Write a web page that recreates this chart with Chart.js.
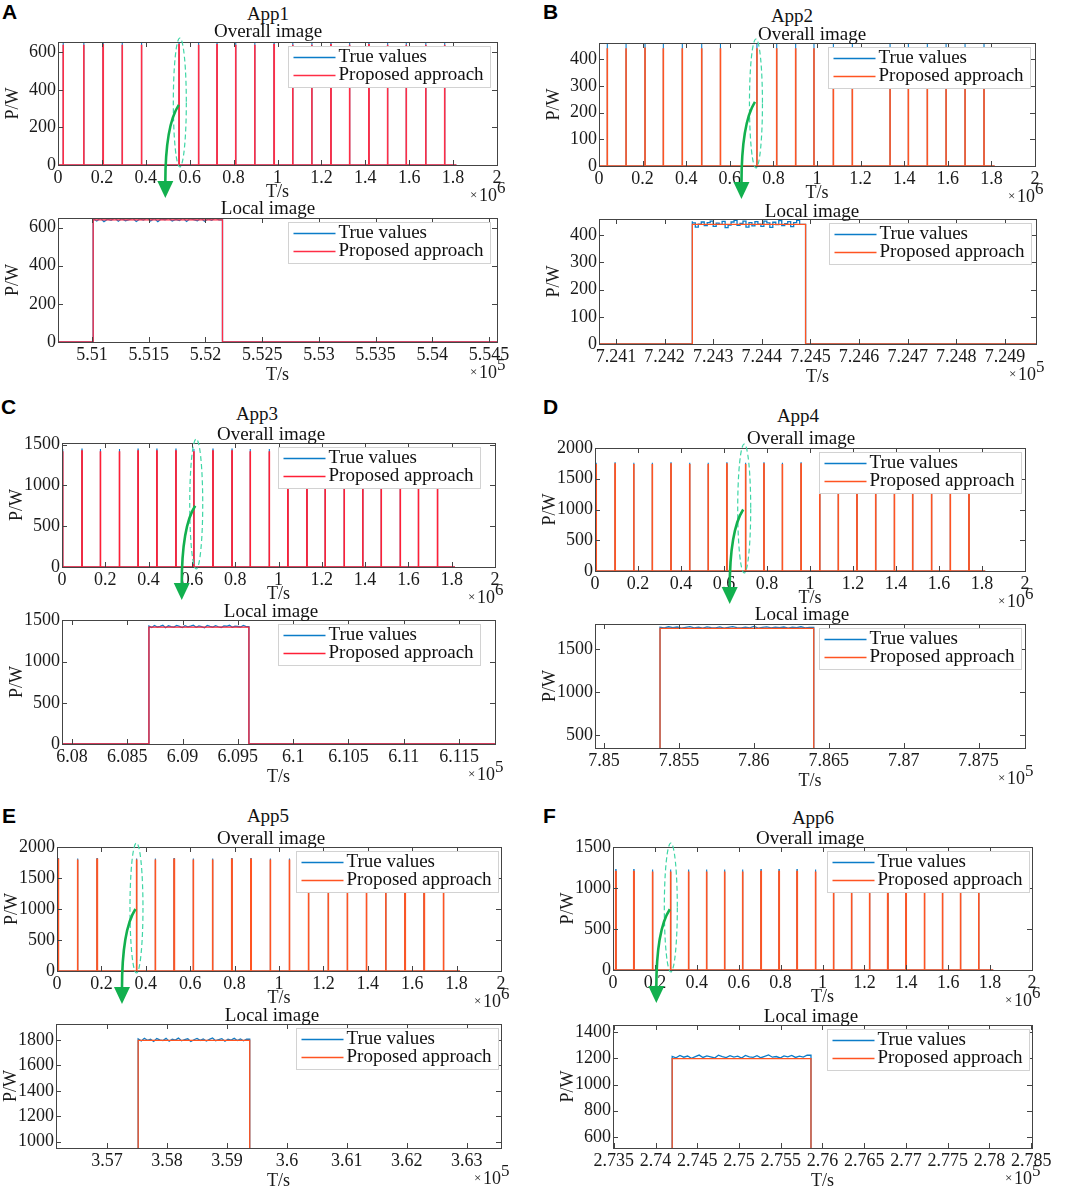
<!DOCTYPE html>
<html>
<head>
<meta charset="utf-8">
<script src="https://cdn.jsdelivr.net/npm/chart.js@4.4.1/dist/chart.umd.min.js"></script>
<style>
  body { margin: 0; background: #fff; width: 1065px; height: 1190px; position: relative; overflow: hidden;
         font-family: "Liberation Serif", "Times New Roman", serif; }
  canvas.plot { position: absolute; }
  .lbl { position: absolute; transform: translate(-50%, -50%); font-size: 19px; color: #111; white-space: nowrap; line-height: 1; }
  .panel { position: absolute; font: bold 21px "Liberation Sans", Arial, sans-serif; color: #000; line-height: 1; }
  #overlay { position: absolute; left: 0; top: 0; pointer-events: none; z-index: 10; }
</style>
</head>
<body>
<canvas id="overlay" width="1065" height="1190"></canvas>
<script>
// ---- data ----
const apps = ['App1', 'App2', 'App3', 'App4', 'App5', 'App6'];
const panelLetters = ['A', 'B', 'C', 'D', 'E', 'F'];
const seriesLabels = ['True values', 'Proposed approach'];
const overallTitle = 'Overall image';
const localTitle = 'Local image';

// overall image: pulse start times (x10^6 s)
const startsApp1 = [0.023, 0.117, 0.205, 0.292, 0.380, 0.551, 0.640, 0.724, 0.809, 0.896, 0.984, 1.069, 1.156, 1.243, 1.328, 1.416, 1.501, 1.586, 1.675, 1.761];
const startsApp2 = [0.038, 0.124, 0.211, 0.295, 0.382, 0.471, 0.557, 0.7243, 0.815, 0.902, 0.986, 1.075, 1.162, 1.335, 1.419, 1.506, 1.592, 1.679, 1.766];
const startsApp3 = [0.003, 0.092, 0.177, 0.265, 0.351, 0.438, 0.526, 0.6087, 0.697, 0.785, 0.869, 0.957, 1.043, 1.131, 1.215, 1.303, 1.389, 1.474, 1.562, 1.646, 1.734];
const startsApp4 = [0.005, 0.093, 0.180, 0.266, 0.353, 0.440, 0.526, 0.613, 0.700, 0.7854, 0.871, 0.958, 1.045, 1.131, 1.218, 1.305, 1.392, 1.477, 1.565, 1.652, 1.739];
const startsApp5 = [0.0045, 0.092, 0.180, 0.3575, 0.442, 0.527, 0.613, 0.700, 0.787, 0.873, 0.960, 1.046, 1.132, 1.221, 1.307, 1.393, 1.480, 1.567, 1.653, 1.740];
const startsApp6 = [0.013, 0.099, 0.188, 0.2742, 0.360, 0.446, 0.532, 0.618, 0.706, 0.792, 0.878, 0.966, 1.052, 1.138, 1.224, 1.311, 1.398, 1.486, 1.572, 1.658, 1.745];
const overallStarts = [startsApp1, startsApp2, startsApp3, startsApp4, startsApp5, startsApp6];
const recordEnd = 1.815;                       // x10^6 s
const trueOverall = [652, 456, 1445, 1760, 1815, 1225];
const predOverall = [640, 440, 1420, 1740, 1800, 1200];
const overallYMax = [655, 460, 1520, 2000, 2000, 1500];
const overallYTicks = [
  [0, 200, 400, 600], [0, 100, 200, 300, 400], [0, 500, 1000, 1500],
  [0, 500, 1000, 1500, 2000], [0, 500, 1000, 1500, 2000], [0, 500, 1000, 1500]
];
const overallXTicks = [0, 0.2, 0.4, 0.6, 0.8, 1, 1.2, 1.4, 1.6, 1.8, 2];
const zoomMarkX = [0.555, 0.720, 0.620, 0.694, 0.358, 0.276];
const arrowFromY = [320, 240, 750, 1000, 1000, 740];

// local image (x10^5 s)
const localRange = [[5.5070, 5.5457], [7.24065, 7.24964], [6.0791, 6.11825], [7.8494, 7.8781], [3.5615, 3.6357], [2.7349, 2.7851]];
const localOn  = [5.5101, 7.24257, 6.08696, 7.85374, 3.5752, 2.74199];
const localOff = [5.5215, 7.24490, 6.09600, 7.86400, 3.5938, 2.75862];
const predLocal = [640, 440, 1418, 1740, 1797, 1198];
const trueLocalApp1 = [646, 634, 649, 631, 644, 638, 650, 633, 647, 636, 642, 649, 632, 645, 639, 650, 635, 648, 631, 646, 640, 649, 634, 643, 637, 650, 632, 647, 641, 636, 649, 633, 645, 638, 650, 640];
const trueLocalApp2 = [452, 446, 430, 441, 449, 436, 447, 452, 433, 445, 440, 451, 428, 438, 449, 455, 437, 444, 452, 430, 447, 435, 450, 441, 433, 452, 446, 429, 448, 439, 454, 436, 443, 450, 432, 447, 455, 440];
const trueLocalApp3 = [1432, 1415, 1438, 1420, 1428, 1441, 1412, 1435, 1424, 1418, 1440, 1427, 1413, 1436, 1422, 1430, 1442, 1417, 1433, 1425, 1411, 1439, 1428, 1419, 1437, 1423, 1414, 1434, 1429, 1441, 1416, 1431, 1426, 1420, 1438, 1424];
const trueLocalApp4 = [1752, 1744, 1758, 1747, 1755, 1741, 1750, 1760, 1746, 1753, 1743, 1757, 1749, 1745, 1756, 1742, 1751, 1759, 1748, 1744, 1754, 1746, 1761, 1743, 1750, 1757, 1745, 1752, 1748, 1755, 1741, 1753, 1747, 1758, 1744, 1751];
const trueLocalApp5 = [1808, 1792, 1813, 1797, 1805, 1788, 1810, 1800, 1795, 1812, 1790, 1806, 1798, 1814, 1793, 1803, 1809, 1787, 1801, 1811, 1796, 1807, 1791, 1804, 1815, 1794, 1802, 1810, 1789, 1806, 1799, 1812, 1795, 1808, 1793, 1805];
const trueLocalApp6 = [1215, 1204, 1222, 1209, 1218, 1201, 1213, 1225, 1207, 1219, 1211, 1203, 1224, 1214, 1206, 1220, 1210, 1217, 1202, 1223, 1212, 1208, 1221, 1205, 1216, 1226, 1209, 1214, 1203, 1219, 1212, 1222, 1207, 1217, 1210, 1224];
const trueLocal = [trueLocalApp1, trueLocalApp2, trueLocalApp3, trueLocalApp4, trueLocalApp5, trueLocalApp6];
const localYRange = [[0, 650], [0, 460], [0, 1505], [350, 1790], [950, 1925], [515, 1455]];
const localYTicks = [
  [0, 200, 400, 600], [0, 100, 200, 300, 400], [0, 500, 1000, 1500],
  [500, 1000, 1500], [1000, 1200, 1400, 1600, 1800], [600, 800, 1000, 1200, 1400]
];
const localXTicks = [
  [5.51, 5.515, 5.52, 5.525, 5.53, 5.535, 5.54, 5.545],
  [7.241, 7.242, 7.243, 7.244, 7.245, 7.246, 7.247, 7.248, 7.249],
  [6.08, 6.085, 6.09, 6.095, 6.1, 6.105, 6.11, 6.115],
  [7.85, 7.855, 7.86, 7.865, 7.87, 7.875],
  [3.57, 3.58, 3.59, 3.6, 3.61, 3.62, 3.63],
  [2.735, 2.74, 2.745, 2.75, 2.755, 2.76, 2.765, 2.77, 2.775, 2.78, 2.785]
];

// ---- layout / style ----
const overallRect = [[58, 42, 497, 165], [599, 43, 1035, 166], [62, 443, 495, 567], [595, 448, 1025, 571], [57, 847, 501, 971], [613, 847, 1032, 970]];
const localRect   = [[58, 218, 497, 342], [599, 219, 1036, 344], [62, 620, 495, 744], [595, 624, 1025, 748], [56, 1024, 501, 1148], [613, 1025, 1032, 1148]];
const legendRight = [7, 5, 15, 4, 3, 3];
const localStepped = [false, true, false, false, false, false];
const letterPos = [[2, 1], [543, 1], [1, 396], [543, 396], [2, 805], [543, 805]];
const titlePos = [
  [[268, 13], [268, 30], [268, 207]],
  [[792, 15], [812, 33], [812, 210]],
  [[257, 413], [271, 433], [271, 610]],
  [[798, 415], [801, 437], [802, 613]],
  [[268, 815], [271, 837], [272, 1014]],
  [[813, 817], [810, 837], [811, 1015]]
];
const blue = '#0b7cc8';
const predColors = ['#ff2d46', '#ff5422', '#ff1f36', '#ff5422', '#ff5422', '#ff5422'];
const serif = '"Liberation Serif", "Times New Roman", serif';

Chart.defaults.font.family = serif;
Chart.defaults.color = '#1a1a1a';

const matlabAxes = {
  id: 'matlabAxes',
  afterDatasetsDraw(chart, args, opts) {
    const { ctx, chartArea: a, scales: { x, y } } = chart;
    ctx.save();
    ctx.strokeStyle = '#444';
    ctx.lineWidth = 1;
    ctx.beginPath();
    x.ticks.forEach(t => {
      const px = Math.round(x.getPixelForValue(t.value)) + 0.5;
      ctx.moveTo(px, a.bottom); ctx.lineTo(px, a.bottom - 5);
      ctx.moveTo(px, a.top); ctx.lineTo(px, a.top + 5);
    });
    y.ticks.forEach(t => {
      const py = Math.round(y.getPixelForValue(t.value)) + 0.5;
      ctx.moveTo(a.left, py); ctx.lineTo(a.left + 5, py);
      ctx.moveTo(a.right, py); ctx.lineTo(a.right - 5, py);
    });
    ctx.stroke();
    ctx.strokeRect(Math.round(a.left) + 0.5, Math.round(a.top) + 0.5, Math.round(a.right - a.left), Math.round(a.bottom - a.top));

    // legend box
    const bw = 202, bh = 41;
    const bx = Math.round(a.right - opts.legendRight - bw) + 0.5, by = Math.round(a.top + 4) + 0.5;
    ctx.fillStyle = '#fff';
    ctx.fillRect(bx, by, bw, bh);
    ctx.strokeStyle = '#d2d2d2';
    ctx.strokeRect(bx, by, bw, bh);
    ctx.font = '19px ' + serif;
    ctx.textBaseline = 'middle';
    ctx.textAlign = 'left';
    chart.data.datasets.forEach((ds, i) => {
      const ly = by + 11 + i * 18;
      ctx.strokeStyle = ds.borderColor;
      ctx.lineWidth = 1.6;
      ctx.beginPath(); ctx.moveTo(bx + 5, ly); ctx.lineTo(bx + 47, ly); ctx.stroke();
      ctx.fillStyle = '#111';
      ctx.fillText(ds.label, bx + 50, ly);
    });

    // exponent label
    ctx.fillStyle = '#1a1a1a';
    const ex = a.right - 27, ey = a.bottom + 31;
    ctx.font = '13px ' + serif;
    ctx.fillText('\u00d7', ex, ey);
    ctx.font = '18px ' + serif;
    ctx.fillText('10', ex + 9, ey);
    ctx.font = '17px ' + serif;
    ctx.fillText(opts.exponent, ex + 27, ey - 7);
    ctx.restore();
  }
};

function pulseTrain(starts, width, level, tEnd) {
  const pts = [{ x: 0, y: 0 }];
  starts.forEach(s => {
    pts.push({ x: s, y: 0 }, { x: s, y: level }, { x: s + width, y: level }, { x: s + width, y: 0 });
  });
  pts.push({ x: tEnd, y: 0 });
  return pts;
}

function localPred(i) {
  const [x0, x1] = localRange[i];
  return [{ x: x0, y: 0 }, { x: localOn[i], y: 0 }, { x: localOn[i], y: predLocal[i] },
          { x: localOff[i], y: predLocal[i] }, { x: localOff[i], y: 0 }, { x: x1, y: 0 }];
}

function localTrue(i) {
  const [x0, x1] = localRange[i];
  const vals = trueLocal[i];
  const dt = (localOff[i] - localOn[i]) / vals.length;   // sampling step
  const pts = [{ x: x0, y: 0 }, { x: localOn[i], y: 0 }];
  vals.forEach((v, k) => pts.push({ x: localOn[i] + k * dt, y: v }));
  pts.push({ x: localOff[i], y: vals[vals.length - 1] }, { x: localOff[i], y: 0 }, { x: x1, y: 0 });
  return pts;
}

function makeChart(rect, local, i, trueData, predData, xMin, xMax, xTicks, yMin, yMax, yTicks) {
  const [L, T, R, B] = rect;
  const yw = 60, padTop = 16, padRight = 28, xh = local ? 46 : 40;
  const cv = document.createElement('canvas');
  cv.className = 'plot';
  cv.width = (R - L) + yw + padRight;
  cv.height = (B - T) + padTop + xh;
  cv.style.left = (L - yw) + 'px';
  cv.style.top = (T - padTop) + 'px';
  document.body.appendChild(cv);
  const tickFont = { size: 18, family: serif };
  const chart = new Chart(cv, {
    type: 'line',
    data: {
      datasets: [{
        label: seriesLabels[0],
        data: trueData,
        borderColor: blue,
        borderWidth: local ? 1.3 : 1.1,
        pointRadius: 0,
        stepped: local && localStepped[i] ? 'after' : false,
        order: 2
      }, {
        label: seriesLabels[1],
        data: predData,
        borderColor: predColors[i],
        borderWidth: local ? 1.3 : 1.6,
        pointRadius: 0,
        order: 1
      }]
    },
    options: {
      responsive: false,
      animation: false,
      events: [],
      layout: { padding: { top: padTop, right: padRight, left: 0, bottom: 0 } },
      plugins: {
        legend: { display: false },
        tooltip: { enabled: false },
        matlabAxes: { legendRight: legendRight[i], exponent: local ? '5' : '6' }
      },
      scales: {
        x: {
          type: 'linear', min: xMin, max: xMax,
          grid: { display: false, drawTicks: false, tickLength: 0 }, border: { display: false },
          afterBuildTicks: s => { s.ticks = xTicks.map(v => ({ value: v })); },
          afterFit: s => { s.height = xh; },
          ticks: { autoSkip: false, maxRotation: 0, minRotation: 0, padding: 2, font: tickFont, color: '#1a1a1a',
                   callback: v => String(+v.toFixed(4)) },
          title: { display: true, text: 'T/s', font: tickFont, color: '#1a1a1a', padding: { top: 0, bottom: 2 } }
        },
        y: {
          min: yMin, max: yMax,
          grid: { display: false, drawTicks: false, tickLength: 0 }, border: { display: false },
          afterBuildTicks: s => { s.ticks = yTicks.map(v => ({ value: v })); },
          afterFit: s => { s.width = yw; },
          ticks: { padding: 2, font: tickFont, color: '#1a1a1a', callback: v => String(v) },
          title: { display: true, text: 'P/W', font: tickFont, color: '#1a1a1a', padding: { top: 4, bottom: 0 } }
        }
      }
    },
    plugins: [matlabAxes]
  });
  chart.pageLeft = L - yw;
  chart.pageTop = T - padTop;
  return chart;
}

function addText(cls, text, x, y) {
  const d = document.createElement('div');
  d.className = cls;
  d.textContent = text;
  d.style.left = x + 'px';
  d.style.top = y + 'px';
  document.body.appendChild(d);
}

const overlay = document.getElementById('overlay').getContext('2d');

function drawZoomMark(chart, i) {
  const a = chart.chartArea, x = chart.scales.x, y = chart.scales.y;
  const cx = chart.pageLeft + x.getPixelForValue(zoomMarkX[i]);
  const top = chart.pageTop + a.top - 4, bot = chart.pageTop + a.bottom + 2;
  const ctx = overlay;
  ctx.save();
  ctx.setLineDash([5, 3]);
  ctx.strokeStyle = '#3fd6a6';
  ctx.lineWidth = 1.2;
  ctx.beginPath();
  ctx.ellipse(cx, (top + bot) / 2, 6.5, (bot - top) / 2, 0, 0, Math.PI * 2);
  ctx.stroke();
  ctx.setLineDash([]);
  const sx = cx - 1, sy = chart.pageTop + y.getPixelForValue(arrowFromY[i]);
  const tx = sx - 13.5, ty = chart.pageTop + a.bottom + 33;
  ctx.strokeStyle = ctx.fillStyle = '#12b04e';
  ctx.lineWidth = 2.6;
  ctx.beginPath();
  ctx.moveTo(sx, sy);
  ctx.quadraticCurveTo(tx, sy + 0.22 * (ty - sy), tx, ty - 15);
  ctx.stroke();
  ctx.beginPath();
  ctx.moveTo(tx, ty); ctx.lineTo(tx - 8, ty - 17); ctx.lineTo(tx + 8, ty - 17);
  ctx.closePath();
  ctx.fill();
  ctx.restore();
}

for (let i = 0; i < apps.length; i++) {
  const width = (localOff[i] - localOn[i]) / 10;   // x10^5 -> x10^6
  const ov = makeChart(overallRect[i], false, i,
    pulseTrain(overallStarts[i], width, trueOverall[i], recordEnd),
    pulseTrain(overallStarts[i], width, predOverall[i], recordEnd),
    0, 2, overallXTicks, 0, overallYMax[i], overallYTicks[i]);
  makeChart(localRect[i], true, i, localTrue(i), localPred(i),
    localRange[i][0], localRange[i][1], localXTicks[i],
    localYRange[i][0], localYRange[i][1], localYTicks[i]);
  drawZoomMark(ov, i);

  addText('panel', panelLetters[i], letterPos[i][0], letterPos[i][1]);
  addText('lbl', apps[i], titlePos[i][0][0], titlePos[i][0][1]);
  addText('lbl', overallTitle, titlePos[i][1][0], titlePos[i][1][1]);
  addText('lbl', localTitle, titlePos[i][2][0], titlePos[i][2][1]);
}
</script>
</body>
</html>
